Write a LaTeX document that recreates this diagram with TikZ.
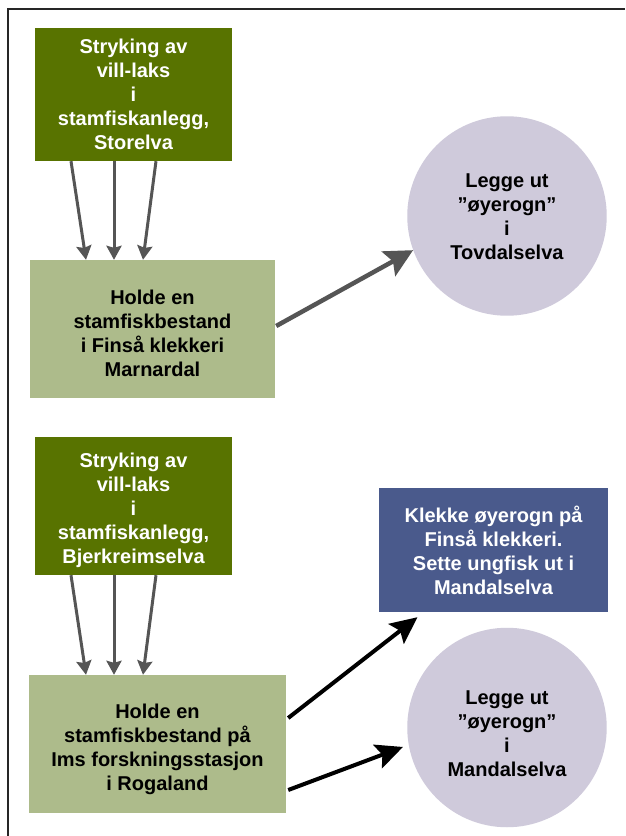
\documentclass[tikz,border=0pt]{standalone}
\usepackage{fontspec}
\setmainfont{Liberation Sans}
\usetikzlibrary{arrows.meta,calc}
\definecolor{darkolive}{HTML}{587300}
\definecolor{lightolive}{HTML}{ADBB8B}
\definecolor{lavender}{HTML}{CFCADB}
\definecolor{slateblue}{HTML}{4A5A8C}
\definecolor{arrgray}{HTML}{555555}
\newcommand{\lowtext}[3]{\raisebox{-#1}[\height][\depth]{\parbox{#2}{\centering #3}}}
\tikzset{
  txt/.style={font=\fontsize{20}{24}\selectfont\bfseries, align=center, inner sep=0pt},
  darkbox/.style={txt, rectangle, fill=darkolive, text=white},
  lightbox/.style={txt, rectangle, fill=lightolive, text=black},
  bluebox/.style={txt, rectangle, fill=slateblue, text=white},
  roundnode/.style={txt, circle, fill=lavender, text=black, minimum size=194pt},
  grayarrow/.style={draw=arrgray, line width=3pt, -{Stealth[length=14pt,width=15pt,inset=2pt]}},
  bigarrow/.style={draw=arrgray, line width=4.5pt, -{Stealth[length=28pt,width=28pt,inset=5pt]}},
  blackarrow/.style={draw=black, line width=4pt, -{Stealth[length=27pt,width=25pt,inset=5pt]}},
}
\begin{document}
\begin{tikzpicture}[x=1pt,y=-1pt]
\useasboundingbox (0,0) rectangle (625,836);
\fill[white] (0,0) rectangle (625,836);
% frame
\draw[line width=2pt, draw=black!85] (7.5,836) -- (7.5,8.5) -- (625,8.5);

% top group
\node[darkbox, minimum width=197pt, minimum height=133pt] (b1) at (133.5,94.5)
  {Stryking av\\vill-laks\\i\\stamfiskanlegg,\\Storelva};
\node[lightbox, minimum width=245pt, minimum height=138pt] (b2) at (152.5,329)
  {\lowtext{4.5pt}{240pt}{Holde en\\stamfiskbestand\\i Finså klekkeri\\Marnardal}};
\node[roundnode] (c1) at (507,216) {\lowtext{1pt}{180pt}{Legge ut\\”øyerogn”\\i\\Tovdalselva}};

\draw[grayarrow] ([xshift=-62.5pt]b1.south) -- ([xshift=-66.5pt]b2.north);
\draw[grayarrow] ([xshift=-19.5pt]b1.south) -- ([xshift=-38.5pt]b2.north);
\draw[grayarrow] ([xshift=22.5pt]b1.south) -- ([xshift=-9.5pt]b2.north);
\draw[bigarrow] ([xshift=1pt,yshift=3pt]b2.east) -- (c1.200);

% bottom group
\node[darkbox, minimum width=197pt, minimum height=138pt] (b3) at (133.5,506)
  {\lowtext{4pt}{195pt}{Stryking av\\vill-laks\\i\\stamfiskanlegg,\\Bjerkreimselva}};
\node[lightbox, minimum width=257pt, minimum height=138pt] (b4) at (157.5,744)
  {\lowtext{5pt}{250pt}{Holde en\\stamfiskbestand på\\Ims forskningsstasjon\\i Rogaland}};
\node[bluebox, minimum width=229pt, minimum height=124pt] (b5) at (493.5,550)
  {Klekke øyerogn på\\Finså klekkeri.\\Sette ungfisk ut i\\Mandalselva};
\node[roundnode] (c2) at (507,727.5) {\lowtext{6pt}{180pt}{Legge ut\\”øyerogn”\\i\\Mandalselva}};

\draw[grayarrow] ([xshift=-62.5pt]b3.south) -- ([xshift=-71.5pt]b4.north);
\draw[grayarrow] ([xshift=-19.5pt]b3.south) -- ([xshift=-43.5pt]b4.north);
\draw[grayarrow] ([xshift=22.5pt]b3.south) -- ([xshift=-14.5pt]b4.north);
\draw[blackarrow] ([xshift=2pt,yshift=26pt]b4.east) -- ([xshift=-76pt,yshift=-5pt]b5.south);
\draw[blackarrow, shorten >=6pt] ([xshift=2pt,yshift=-46pt]b4.east) -- (c2.190);
\end{tikzpicture}
\end{document}
